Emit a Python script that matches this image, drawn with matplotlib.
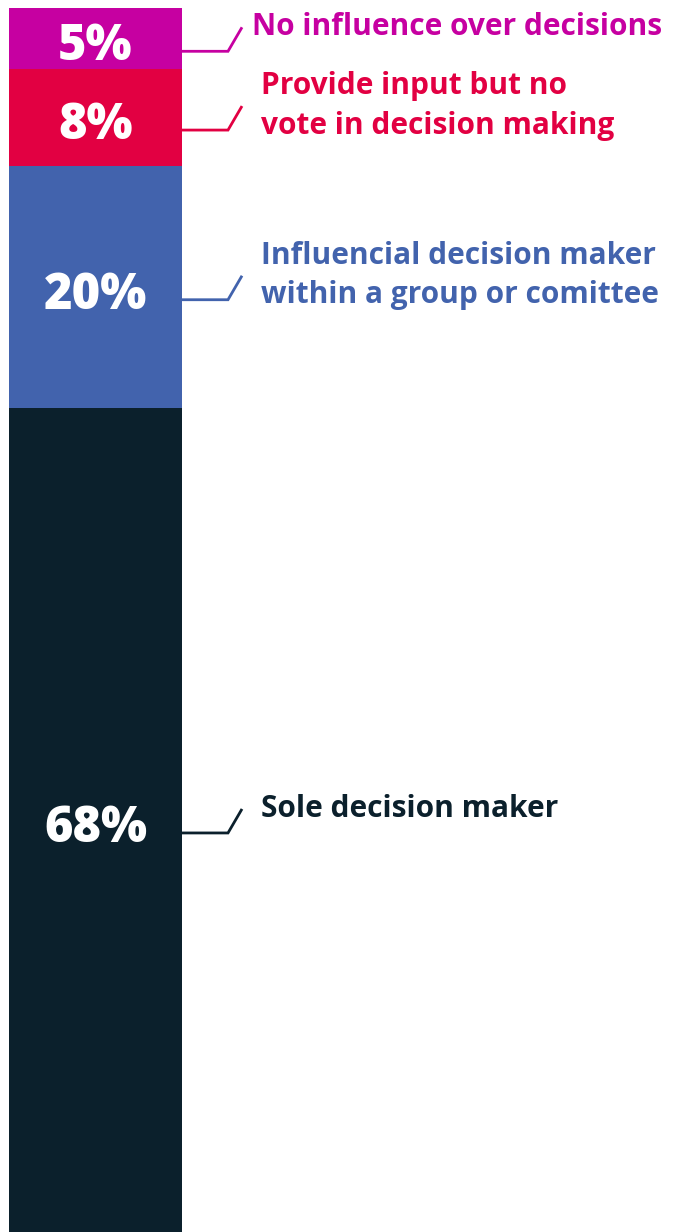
import numpy as np
import matplotlib.pyplot as plt

# survey shares, listed from bottom of the stack to the top
labels = ['Sole decision maker',
          'Influencial decision maker\nwithin a group or comittee',
          'Provide input but no\nvote in decision making',
          'No influence over decisions']
shares = [68, 20, 8, 5]
colors = ['#0B202C', '#4263AD', '#E20042', '#C600A1']

W, H = 675, 1232
TOP, BAR_L, BAR_R = 8, 9, 182
FONT = ['Open Sans', 'DejaVu Sans']

total = sum(shares)
px = total / (H - TOP)          # one pixel in value units

fig = plt.figure(figsize=(W / 100, H / 100), dpi=100)
ax = fig.add_axes([0, 0, 1, 1])
ax.set_xlim(0, W)
ax.set_ylim(0, total + TOP * px)
ax.axis('off')

bottoms = np.concatenate([[0], np.cumsum(shares)[:-1]])
ax.bar(BAR_L, shares, width=BAR_R - BAR_L, bottom=bottoms, color=colors,
       align='edge', linewidth=0)

text_x = [261, 261, 261, 252]
for val, bot, col, lab, tx in zip(shares, bottoms, colors, labels, text_x):
    mid = bot + val / 2
    # value inside the segment
    ax.text((BAR_L + BAR_R) / 2, mid - 9 * px, f'{val}%', color='white',
            fontsize=35, fontweight='heavy', family=FONT,
            ha='center', va='center')
    # connector: flat run then a short slanted tick
    y0 = mid - 13 * px
    y1 = y0 + 24 * px
    ax.plot([BAR_R, 228, 242], [y0, y0, y1], color=col, lw=2,
            solid_joinstyle='miter', solid_capstyle='butt')
    ax.text(tx, y1, lab, color=col, fontsize=21.5, fontweight='bold',
            family=FONT, ha='left', va='center', linespacing=1.4)

fig.savefig('out.png', dpi=100, facecolor='white')
